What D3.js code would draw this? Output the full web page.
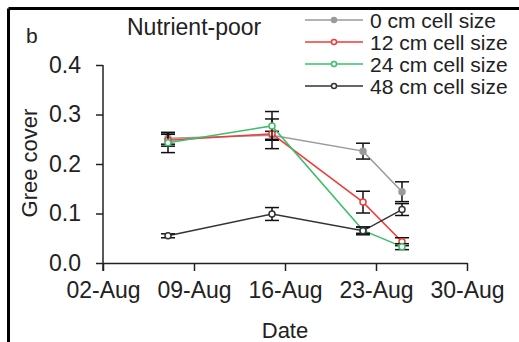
<!DOCTYPE html>
<html>
<head>
<meta charset="utf-8">
<script src="https://cdn.jsdelivr.net/npm/d3@7"></script>
<style>
  body { margin: 0; background: #fff; }
  svg text { font-family: "Liberation Sans", Arial, sans-serif; fill: #222; }
</style>
</head>
<body>
<svg id="chart" width="519" height="342"></svg>
<script>
// data
var dates = ["2019-08-07", "2019-08-15", "2019-08-22", "2019-08-25"];
var seriesNames = ["0 cm cell size", "12 cm cell size", "24 cm cell size", "48 cm cell size"];
var seriesColors = ["#9a9a9a", "#f23a3a", "#3cbf6a", "#333333"];
var cover0  = [0.252, 0.258, 0.226, 0.144];
var cover12 = [0.248, 0.261, 0.123, 0.043];
var cover24 = [0.243, 0.277, 0.066, 0.033];
var cover48 = [0.055, 0.099, 0.065, 0.108];
var err0  = [0.012, 0.008, 0.016, 0.020];
var err12 = [0.012, 0.030, 0.022, 0.008];
var err24 = [0.020, 0.029, 0.006, 0.006];
var err48 = [0.004, 0.013, 0.008, 0.012];
var xTicks = ["2019-08-02", "2019-08-09", "2019-08-16", "2019-08-23", "2019-08-30"];
var yTicks = [0, 0.1, 0.2, 0.3, 0.4];

var parseDate = d3.timeParse("%Y-%m-%d");
var covers = [cover0, cover12, cover24, cover48];
var errs = [err0, err12, err24, err48];
var series = seriesNames.map(function (name, i) {
  return {
    name: name,
    color: seriesColors[i],
    filled: i === 0,
    values: dates.map(function (d, j) {
      return { date: parseDate(d), v: covers[i][j], e: errs[i][j] };
    })
  };
});

var svg = d3.select("#chart");

// frame (top and left edge of panel)
svg.append("line").attr("x1", 8.5).attr("x2", 519).attr("y1", 8.5).attr("y2", 8.5)
  .attr("stroke", "#000").attr("stroke-width", 3);
svg.append("line").attr("x1", 8.5).attr("x2", 8.5).attr("y1", 8.5).attr("y2", 342)
  .attr("stroke", "#000").attr("stroke-width", 3);

var xScale = d3.scaleTime()
  .domain([parseDate(xTicks[0]), parseDate(xTicks[xTicks.length - 1])])
  .range([103, 467]);
var yScale = d3.scaleLinear().domain([0, 0.4]).range([263, 65]);

/* Axes */
var xAxis = svg.append("g")
  .attr("transform", "translate(0,263)")
  .call(d3.axisBottom(xScale)
    .tickValues(xTicks.map(parseDate))
    .tickFormat(d3.timeFormat("%d-%b"))
    .tickSize(8).tickSizeOuter(0).tickPadding(11));
var yAxis = svg.append("g")
  .attr("transform", "translate(103,0)")
  .call(d3.axisLeft(yScale)
    .tickValues(yTicks)
    .tickFormat(d3.format(".1f"))
    .tickSize(7).tickSizeOuter(0).tickPadding(15));
[xAxis, yAxis].forEach(function (ax) {
  ax.select(".domain").attr("stroke", "#222").attr("stroke-width", 1.5);
  ax.selectAll(".tick line").attr("stroke", "#222").attr("stroke-width", 1.5);
  ax.selectAll(".tick text").style("font-size", "23px").attr("fill", "#222");
});
// 0.0 tick pokes a little below the x axis
yAxis.select(".domain").attr("d", "M0,65V271");

svg.append("text").attr("x", 285).attr("y", 338).attr("text-anchor", "middle")
  .style("font-size", "22px").text("Date");
svg.append("text").attr("transform", "translate(37,163) rotate(-90)")
  .attr("text-anchor", "middle").style("font-size", "22px").text("Gree cover");
svg.append("text").attr("x", 26).attr("y", 43).style("font-size", "21px").text("b");
svg.append("text").attr("x", 127).attr("y", 35).style("font-size", "23px").text("Nutrient-poor");

/* Lines */
var line = d3.line().x(d => xScale(d.date)).y(d => yScale(d.v));
var groups = svg.selectAll(".series").data(series).enter().append("g").attr("class", "series");
groups.append("path")
  .attr("d", d => line(d.values))
  .attr("fill", "none")
  .attr("stroke", d => d.color)
  .attr("stroke-width", 1.5);

/* Error bars */
groups.each(function (s) {
  var g = d3.select(this);
  var eb = g.selectAll(".eb").data(s.values).enter().append("g").attr("class", "eb")
    .attr("stroke", "#111").attr("stroke-width", 1.5);
  eb.append("line").attr("x1", d => xScale(d.date)).attr("x2", d => xScale(d.date))
    .attr("y1", d => yScale(d.v - d.e)).attr("y2", d => yScale(d.v + d.e));
  eb.append("line").attr("x1", d => xScale(d.date) - 7).attr("x2", d => xScale(d.date) + 7)
    .attr("y1", d => yScale(d.v - d.e)).attr("y2", d => yScale(d.v - d.e));
  eb.append("line").attr("x1", d => xScale(d.date) - 7).attr("x2", d => xScale(d.date) + 7)
    .attr("y1", d => yScale(d.v + d.e)).attr("y2", d => yScale(d.v + d.e));
});

/* Points */
groups.each(function (s) {
  d3.select(this).selectAll("circle").data(s.values).enter().append("circle")
    .attr("cx", d => xScale(d.date)).attr("cy", d => yScale(d.v)).attr("r", 3)
    .attr("fill", s.filled ? s.color : "#fff")
    .attr("stroke", s.color).attr("stroke-width", 1.5);
});

/* Legend */
var legend = svg.append("g").selectAll("g").data(series).enter().append("g")
  .attr("transform", (d, i) => "translate(305," + (20 + i * 22) + ")");
legend.append("line").attr("x1", 0).attr("x2", 58).attr("y1", 0).attr("y2", 0)
  .attr("stroke", d => d.color).attr("stroke-width", 1.5);
legend.append("circle").attr("cx", 29).attr("cy", 0).attr("r", 2.5)
  .attr("fill", d => d.filled ? d.color : "#fff")
  .attr("stroke", d => d.color).attr("stroke-width", 1.5);
legend.append("text").attr("x", 65).attr("y", 7.5).style("font-size", "21px").text(d => d.name);
</script>
</body>
</html>
